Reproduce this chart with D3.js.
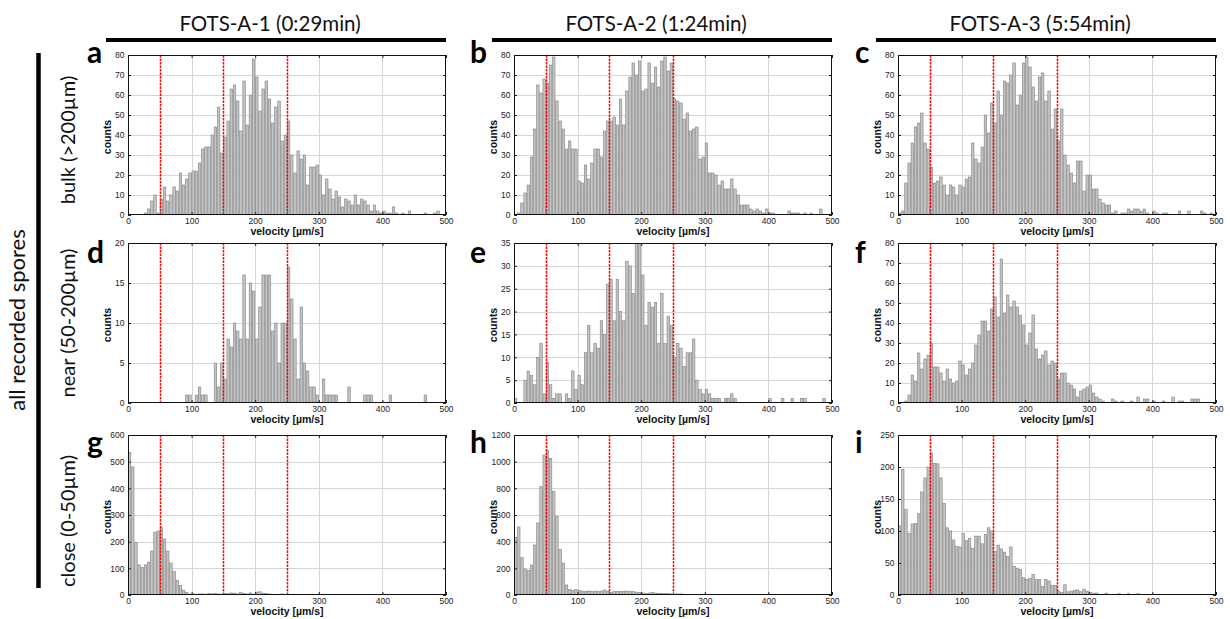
<!DOCTYPE html>
<html><head><meta charset="utf-8">
<script src="https://cdn.jsdelivr.net/npm/d3@7"></script>
<style>body{margin:0;background:#fff}svg{display:block}</style>
</head><body><svg id="chart" width="1230" height="619"></svg>
<script>
// ---------------- data ----------------
const columnTitles = ["FOTS-A-1 (0:29min)", "FOTS-A-2 (1:24min)", "FOTS-A-3 (5:54min)"];
const rowTitles = ["bulk (>200µm)", "near (50-200µm)", "close (0-50µm)"];
const groupTitle = "all recorded spores";
const panelLetters = ["a","b","c","d","e","f","g","h","i"];
const xLabel = "velocity [µm/s]";
const yLabel = "counts";
const binWidth = 5;            // µm/s per histogram bin, bins start at 0
const xTickLabels = [0,100,200,300,400,500];
const thresholds = [50,150,250];
const yTickLabels = [
  [0,10,20,30,40,50,60,70,80],
  [0,10,20,30,40,50,60,70,80],
  [0,10,20,30,40,50,60,70,80],
  [0,5,10,15,20],
  [0,5,10,15,20,25,30,35],
  [0,10,20,30,40,50,60,70,80],
  [0,100,200,300,400,500,600],
  [0,200,400,600,800,1000,1200],
  [0,50,100,150,200,250]
];

const countsA = [0,0,0,0,0,1,3,7,10,1, 8,14,7,10,14,12,21,15,18,21, 22,22,26,33,34,34,40,44,54,31,
  39,47,63,65,57,42,67,45,60,78, 69,52,63,67,58,46,54,57,37,40, 47,30,21,32,28,30,15,24,24,25,
  20,10,18,13,8,12,9,4,8,7, 5,10,5,8,7,5,2,5,2,1, 2,1,1,4,1,0,1,0,2,0, 0,0,0,1,0,0,1,2,0,0];
const countsB = [0,1,6,11,15,29,43,65,61,68, 66,75,79,57,47,43,33,37,33,33, 17,16,25,18,26,33,33,29,42,47,
  47,49,45,58,45,62,69,76,70,77, 62,63,76,66,74,64,77,79,72,76, 58,57,56,48,51,42,43,44,28,29,
  36,21,21,20,15,17,13,13,18,13, 10,5,5,5,3,2,3,2,1,3, 1,1,0,0,0,0,2,1,1,1, 0,1,0,1,0,0,3,0,0,0];
const countsC = [1,2,16,26,36,44,46,51,36,33, 24,16,17,19,15,10,15,14,10,15, 14,18,19,36,28,26,34,50,41,56,
  46,62,50,67,66,70,76,55,60,76, 79,74,64,57,69,71,57,62,43,53, 37,53,30,25,21,16,27,27,12,20,
  20,13,13,8,6,5,5,1,2,0, 1,1,3,2,3,3,2,3,1,0, 2,1,0,1,1,0,0,0,2,0, 0,2,0,0,0,2,1,0,1,0];
const countsD = [0,0,0,0,0,0,0,0,0,0, 0,0,0,0,0,0,0,0,1,1, 0,1,2,1,1,0,0,5,2,5,
  3,8,7,10,9,8,16,8,15,14, 8,12,16,16,16,9,10,5,10,10, 17,13,8,3,12,5,4,2,2,1,
  0,3,1,1,1,1,0,0,0,2, 0,0,0,0,1,1,1,0,0,0, 0,0,1,0,0,0,0,0,0,0, 0,0,0,1,0,0,0,0,0,0];
const countsE = [1,0,0,5,7,6,4,10,13,2, 9,4,1,2,2,0,2,1,7,3, 6,4,11,17,11,13,12,18,15,26,
  27,18,27,20,18,31,30,24,36,36, 28,17,22,21,22,13,24,13,19,17, 10,13,12,8,11,11,14,5,3,2,
  3,2,1,1,1,0,1,1,2,1, 0,0,0,0,0,0,0,0,0,0, 1,0,0,0,1,0,0,1,0,0, 1,1,0,0,0,0,0,1,0,0];
const countsF = [0,0,1,4,14,11,25,17,22,24, 30,18,18,15,11,17,12,10,11,21, 19,14,17,20,29,34,41,41,36,47,
  53,43,72,45,54,48,51,48,44,39, 29,35,44,27,22,24,26,19,21,20, 12,15,15,10,9,7,3,6,7,8,
  9,5,3,2,1,0,0,2,1,0, 1,0,0,1,0,3,0,2,2,0, 1,0,0,1,0,0,3,0,1,1, 0,0,2,2,2,0,0,0,0,0];
const countsG = [535,480,197,113,103,113,123,165,236,240, 253,210,165,120,88,55,35,18,10,3,
  4,3,4,4,3,5,4,5,4,3, 5,6,8,7,4,9,6,4,8,3, 11,12,7,6,4,2,0,3,4,2, 0,3,0,2,1,0,0,0,0,0,
  0,0,0,0,0,0,0,0,0,0, 0,0,0,0,0,0,0,0,0,0, 0,0,0,0,0,0,0,0,0,0, 0,0,0,0,0,0,0,0,0,0];
const countsH = [430,510,280,195,185,225,375,540,815,1050, 1085,1025,775,590,340,240,75,40,35,40,
  35,30,25,30,28,30,28,30,38,28, 20,25,28,25,28,30,28,25,22,20, 15,12,15,18,15,12,12,10,10,8,
  6,8,8,6,5,4,5,4,0,0, 0,0,0,0,0,0,0,0,0,0, 0,0,0,0,0,0,0,0,0,0, 0,0,0,0,0,0,0,0,0,0, 0,0,0,0,0,0,0,0,0,0];
const countsI = [108,196,134,96,111,112,127,161,183,200, 222,206,205,183,143,105,100,86,76,75,
  96,85,88,73,92,92,80,95,105,100, 68,78,72,67,60,75,45,42,40,27, 24,26,32,24,24,13,24,22,15,15,
  6,4,16,5,6,7,8,5,9,6, 4,3,3,1,0,3,0,1,0,2, 0,1,2,0,0,2,0,1,0,0, 0,0,0,0,0,0,0,0,0,0, 0,0,0,0,0,0,0,0,0,0];

const allCounts = [countsA,countsB,countsC,countsD,countsE,countsF,countsG,countsH,countsI];

// ---------------- layout ----------------
const svg = d3.select("#chart");
const colLeft = [128, 514, 898];
const rowTop = [55, 243, 435];
const PW = 318, PH = 160;
const letterBaseline = [63, 263, 453];
const letterX = [87, 470, 855];
const serif = "Lato, 'Open Sans', sans-serif";
const tickFont = "'Liberation Sans', Arial, sans-serif";

// column headers and rules
columnTitles.forEach((t, c) => {
  const l = colLeft[c] - 22, r = colLeft[c] + PW;
  svg.append("text").attr("x", (l + r) / 2 - 6).attr("y", 31)
    .attr("text-anchor", "middle").attr("font-family", serif).attr("font-size", 20.5)
    .attr("fill", "#111").text(t);
  svg.append("line").attr("x1", l).attr("x2", r).attr("y1", 40).attr("y2", 40)
    .attr("stroke", "#000").attr("stroke-width", 4);
});

// group label + vertical rule
svg.append("line").attr("x1", 38.5).attr("x2", 38.5).attr("y1", 53).attr("y2", 588)
  .attr("stroke", "#000").attr("stroke-width", 4.5);
svg.append("text").attr("transform", "translate(17,320) rotate(-90)").attr("dy", "0.35em")
  .attr("text-anchor", "middle").attr("font-family", serif).attr("font-size", 22)
  .attr("fill", "#111").text(groupTitle);

const rowLabelY = [140, 323, 521];
rowTitles.forEach((t, r) => {
  svg.append("text").attr("transform", `translate(68,${rowLabelY[r]}) rotate(-90)`).attr("dy", "0.35em")
    .attr("text-anchor", "middle").attr("font-family", serif).attr("font-size", 20)
    .attr("fill", "#111").text(t);
});

// ---------------- panels ----------------
allCounts.forEach((counts, k) => {
  const r = Math.floor(k / 3), c = k % 3;
  const left = colLeft[c], top = rowTop[r];
  const ticksY = yTickLabels[k];
  const yMax = ticksY[ticksY.length - 1];
  const x = d3.scaleLinear().domain([xTickLabels[0], xTickLabels[xTickLabels.length - 1]]).range([left, left + PW]);
  const y = d3.scaleLinear().domain([0, yMax]).range([top + PH, top]);
  const g = svg.append("g");

  const clipId = "clip" + k;
  svg.append("clipPath").attr("id", clipId).append("rect")
    .attr("x", left).attr("y", top).attr("width", PW).attr("height", PH);

  g.append("rect").attr("x", left).attr("y", top).attr("width", PW).attr("height", PH).attr("fill", "#fff");

  // grid
  g.selectAll(".gx").data(xTickLabels.slice(1, -1)).join("line")
    .attr("x1", d => Math.round(x(d)) + 0.5).attr("x2", d => Math.round(x(d)) + 0.5)
    .attr("y1", top).attr("y2", top + PH)
    .attr("stroke", "#d6d6d6").attr("stroke-width", 1);
  g.selectAll(".gy").data(ticksY.slice(1, -1)).join("line")
    .attr("y1", d => Math.round(y(d)) + 0.5).attr("y2", d => Math.round(y(d)) + 0.5)
    .attr("x1", left).attr("x2", left + PW)
    .attr("stroke", "#d6d6d6").attr("stroke-width", 1);

  // bars
  const bars = g.append("g").attr("clip-path", `url(#${clipId})`);
  bars.selectAll("rect").data(counts.map((v, i) => ({ v, i })).filter(d => d.v > 0)).join("rect")
    .attr("x", d => x(d.i * binWidth) + 0.35)
    .attr("width", d => x((d.i + 1) * binWidth) - x(d.i * binWidth) - 0.7)
    .attr("y", d => y(d.v))
    .attr("height", d => y(0) - y(d.v))
    .attr("fill", "#c4c4c4").attr("stroke", "#808080").attr("stroke-width", 0.6);

  // thresholds
  g.selectAll(".th").data(thresholds).join("line")
    .attr("x1", d => Math.round(x(d)) + 0.5).attr("x2", d => Math.round(x(d)) + 0.5)
    .attr("y1", top).attr("y2", top + PH)
    .attr("stroke", "#ff0000").attr("stroke-width", 1.5).attr("stroke-dasharray", "2.5,1");

  // axes (inward ticks on all sides)
  const axB = d3.axisBottom(x).tickValues(xTickLabels).tickSize(-3).tickPadding(2.5).tickFormat(d3.format("d"));
  const axL = d3.axisLeft(y).tickValues(ticksY).tickSize(-3).tickPadding(3.5).tickFormat(d3.format("d"));
  const axT = d3.axisTop(x).tickValues(xTickLabels).tickSize(-3).tickFormat("");
  const axR = d3.axisRight(y).tickValues(ticksY).tickSize(-3).tickFormat("");
  const styleAxis = sel => {
    sel.select(".domain").remove();
    sel.selectAll("line").attr("stroke", "#222");
    sel.selectAll("text").attr("font-family", tickFont).attr("font-size", 8.5).attr("fill", "#222");
  };
  g.append("g").attr("transform", `translate(0,${top + PH})`).call(axB).call(styleAxis);
  g.append("g").attr("transform", `translate(${left},0)`).call(axL).call(styleAxis);
  g.append("g").attr("transform", `translate(0,${top})`).call(axT).call(styleAxis);
  g.append("g").attr("transform", `translate(${left + PW},0)`).call(axR).call(styleAxis);

  // frame
  g.append("rect").attr("x", left + 0.5).attr("y", top + 0.5).attr("width", PW - 1).attr("height", PH - 1)
    .attr("fill", "none").attr("stroke", "#111").attr("stroke-width", 1);

  // axis titles
  g.append("text").attr("x", left + PW / 2).attr("y", top + PH + 19.5)
    .attr("text-anchor", "middle").attr("font-family", tickFont).attr("font-weight", "bold")
    .attr("font-size", 10.5).attr("fill", "#111").text(xLabel);
  g.append("text").attr("transform", `translate(${left - 21},${top + PH / 2 + 2}) rotate(-90)`).attr("dy", "0.35em")
    .attr("text-anchor", "middle").attr("font-family", tickFont).attr("font-weight", "bold")
    .attr("font-size", 10.5).attr("fill", "#111").text(yLabel);

  // panel letter
  svg.append("text").attr("x", letterX[c]).attr("y", letterBaseline[r])
    .attr("font-family", serif).attr("font-weight", "bold").attr("font-size", 30)
    .attr("fill", "#000").text(panelLetters[k]);
});
</script></body></html>
